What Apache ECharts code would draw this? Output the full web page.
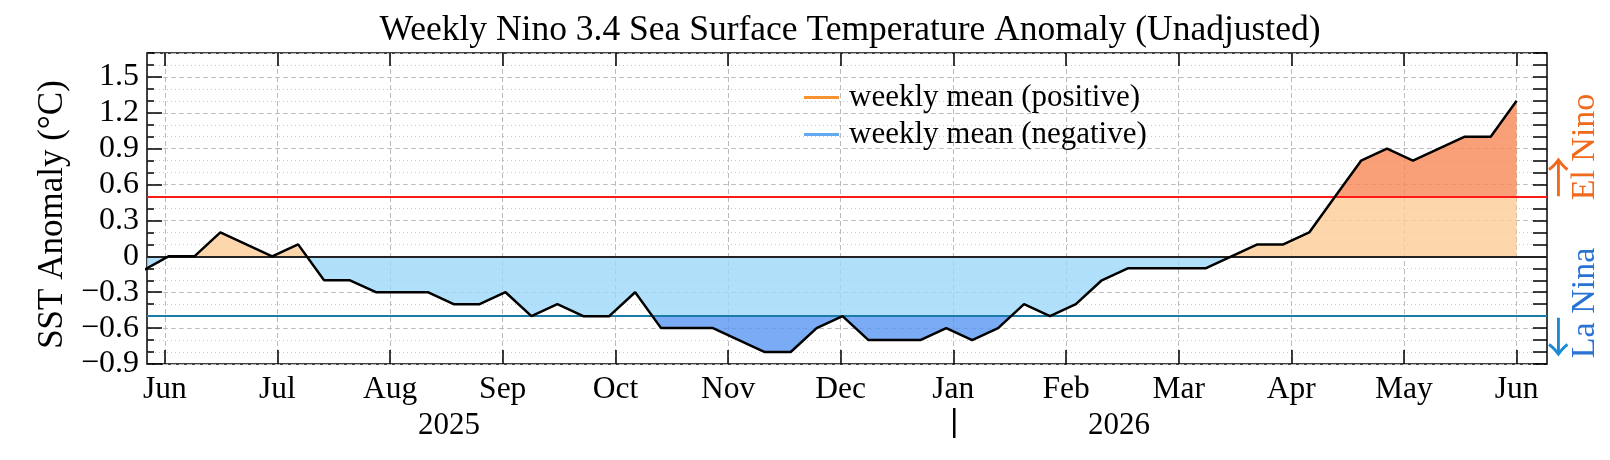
<!DOCTYPE html>
<html>
<head>
<meta charset="utf-8">
<script src="https://cdn.jsdelivr.net/npm/echarts@6/dist/echarts.min.js"></script>
<style>
html, body { margin: 0; padding: 0; background: #fff; }
#chart { width: 1610px; height: 460px; }
</style>
</head>
<body>
<div id="chart"></div>
<script>
// ================* WEEKLY NINO 3.4 *

// week (monday) and anomaly
const weekDates = [
    '2025-05-26', '2025-06-02', '2025-06-09', '2025-06-16', '2025-06-23', '2025-06-30',
    '2025-07-07', '2025-07-14', '2025-07-21', '2025-07-28', '2025-08-04', '2025-08-11',
    '2025-08-18', '2025-08-25', '2025-09-01', '2025-09-08', '2025-09-15', '2025-09-22',
    '2025-09-29', '2025-10-06', '2025-10-13', '2025-10-20', '2025-10-27', '2025-11-03',
    '2025-11-10', '2025-11-17', '2025-11-24', '2025-12-01', '2025-12-08', '2025-12-15',
    '2025-12-22', '2025-12-29', '2026-01-05', '2026-01-12', '2026-01-19', '2026-01-26',
    '2026-02-02', '2026-02-09', '2026-02-16', '2026-02-23', '2026-03-02', '2026-03-09',
    '2026-03-16', '2026-03-23', '2026-03-30', '2026-04-06', '2026-04-13', '2026-04-20',
    '2026-04-27', '2026-05-04', '2026-05-11', '2026-05-18', '2026-05-25', '2026-06-01'
];
const sstAnomaly = [
    -0.12, 0.0, 0.0, 0.2, 0.1, 0.0,
    0.1, -0.2, -0.2, -0.3, -0.3, -0.3,
    -0.4, -0.4, -0.3, -0.5, -0.4, -0.5,
    -0.5, -0.3, -0.6, -0.6, -0.6, -0.7,
    -0.8, -0.8, -0.6, -0.5, -0.7, -0.7,
    -0.7, -0.6, -0.7, -0.6, -0.4, -0.5,
    -0.4, -0.2, -0.1, -0.1, -0.1, -0.1,
    0.0, 0.1, 0.1, 0.2, 0.5, 0.8,
    0.9, 0.8, 0.9, 1.0, 1.0, 1.3
];

const monthLabels = ['Jun', 'Jul', 'Aug', 'Sep', 'Oct', 'Nov', 'Dec', 'Jan', 'Feb', 'Mar', 'Apr', 'May', 'Jun'];
const yearLabels = ['2025', '2026'];
const elNinoLevel = 0.5;
const laNinaLevel = -0.5;

const FONT = '"Liberation Serif", "Times New Roman", serif';
const MONTH = 365 / 12;

function dayOffset(d) {
    return (Date.parse(d) - Date.parse('2025-06-01')) / 86400000;
}

const points = weekDates.map(function (d, i) {
    return [dayOffset(d), sstAnomaly[i]];
});
const monthPos = monthLabels.map(function (m, i) {
    return i * MONTH;
});

function fmtY(v) {
    if (Math.abs(v) < 1e-9) return '0';
    return (v < 0 ? '\u2212' : '') + Math.abs(v).toFixed(1);
}

const chart = echarts.init(document.getElementById('chart'));

const tickStyle = { color: '#000', width: 1.5 };

const option = {
    animation: false,
    grid: {
        left: 147,
        right: 63,
        top: 53,
        bottom: 96,
        show: true,
        borderColor: '#000',
        borderWidth: 1.5,
        backgroundColor: 'transparent'
    },
    legend: {
        orient: 'vertical',
        left: 799,
        top: 77,
        itemGap: 6,
        itemWidth: 35,
        itemHeight: 3,
        icon: 'rect',
        selectedMode: false,
        textStyle: {
            fontFamily: FONT,
            fontSize: 31,
            color: '#000',
            padding: [0, 0, 0, 5]
        },
        data: ['weekly mean (positive)', 'weekly mean (negative)']
    },
    visualMap: {
        type: 'piecewise',
        show: false,
        seriesIndex: 0,
        dimension: 1,
        pieces: [
            { lt: laNinaLevel, color: '#5997f2' },
            { gte: laNinaLevel, lt: 0, color: '#9cd8f9' },
            { gte: 0, lt: elNinoLevel, color: '#fdcc97' },
            { gte: elNinoLevel, color: '#f88856' }
        ]
    },
    xAxis: [{
        type: 'value',
        position: 'bottom',
        min: -4.8,
        max: 373.2,
        axisLine: { show: false, onZero: false },
        axisTick: { customValues: monthPos, inside: true, length: 14, lineStyle: tickStyle },
        axisLabel: {
            customValues: monthPos,
            formatter: function (v) {
                return monthLabels[Math.round(v / MONTH)];
            },
            fontFamily: FONT,
            fontSize: 31.5,
            color: '#000',
            margin: 10
        },
        splitLine: { show: true, lineStyle: { color: '#bbb', type: [5, 3], width: 1 } }
    }, {
        type: 'value',
        position: 'top',
        min: -4.8,
        max: 373.2,
        axisLine: { show: false, onZero: false },
        axisTick: { customValues: monthPos, inside: true, length: 13, lineStyle: tickStyle },
        axisLabel: { show: false, customValues: monthPos },
        splitLine: { show: false }
    }],
    yAxis: [{
        type: 'value',
        position: 'left',
        min: -0.9,
        max: 1.7,
        interval: 0.3,
        axisLine: { show: false, onZero: false },
        axisTick: { inside: true, length: 15, lineStyle: tickStyle },
        axisLabel: {
            formatter: fmtY,
            showMaxLabel: false,
            fontFamily: FONT,
            fontSize: 32,
            color: '#000',
            margin: 8
        },
        splitLine: { show: true, lineStyle: { color: '#bbb', type: [5, 3], width: 1 } },
        name: 'SST Anomaly (\u00b0C)',
        nameLocation: 'middle',
        nameRotate: 90,
        nameGap: 67,
        nameTextStyle: { fontFamily: FONT, fontSize: 35, color: '#000', padding: [0, 12, 0, 0] }
    }, {
        type: 'value',
        position: 'left',
        min: -0.9,
        max: 1.7,
        interval: 0.1,
        axisLine: { show: false, onZero: false },
        axisTick: { inside: true, length: 7, lineStyle: tickStyle },
        axisLabel: { show: false },
        splitLine: { show: true, lineStyle: { color: '#c8c8c8', type: [1, 3], width: 1 } }
    }, {
        type: 'value',
        position: 'right',
        min: -0.9,
        max: 1.7,
        interval: 0.1,
        axisLine: { show: false, onZero: false },
        axisTick: { inside: true, length: 14, lineStyle: tickStyle },
        axisLabel: { show: false },
        splitLine: { show: false }
    }],
    series: [{
        name: 'anomaly fill',
        type: 'line',
        data: points,
        symbol: 'none',
        silent: true,
        z: 2,
        lineStyle: { width: 0 },
        areaStyle: { opacity: 0.8 },
        markLine: {
            silent: true,
            symbol: 'none',
            label: { show: false },
            data: [
                { yAxis: 0, lineStyle: { color: '#222', width: 2, type: 'solid' } },
                { yAxis: elNinoLevel, lineStyle: { color: '#ff1a1a', width: 2, type: 'solid' } },
                { yAxis: laNinaLevel, lineStyle: { color: '#1c7ca8', width: 2, type: 'solid' } }
            ]
        }
    }, {
        name: 'anomaly',
        type: 'line',
        data: points,
        symbol: 'none',
        silent: true,
        z: 6,
        lineStyle: { color: '#000', width: 2.5 }
    }, {
        name: 'weekly mean (positive)',
        type: 'line',
        data: [],
        symbol: 'none',
        itemStyle: { color: '#f7932e' },
        lineStyle: { color: '#f7932e', width: 3 }
    }, {
        name: 'weekly mean (negative)',
        type: 'line',
        data: [],
        symbol: 'none',
        itemStyle: { color: '#64aaf0' },
        lineStyle: { color: '#64aaf0', width: 3 }
    }],
    graphic: [{
        type: 'text',
        x: 850,
        y: 31,
        style: {
            text: 'Weekly Nino 3.4 Sea Surface Temperature Anomaly (Unadjusted)',
            font: '35.5px ' + FONT,
            fill: '#000',
            textAlign: 'center',
            textVerticalAlign: 'middle'
        }
    }, {
        type: 'text',
        x: 449,
        y: 426,
        style: { text: yearLabels[0], font: '31px ' + FONT, fill: '#000', textAlign: 'center', textVerticalAlign: 'middle' }
    }, {
        type: 'text',
        x: 1119,
        y: 426,
        style: { text: yearLabels[1], font: '31px ' + FONT, fill: '#000', textAlign: 'center', textVerticalAlign: 'middle' }
    }, {
        type: 'rect',
        shape: { x: 953, y: 408, width: 2.5, height: 30 },
        style: { fill: '#000' }
    }, {
        type: 'text',
        x: 1585,
        y: 147,
        rotation: Math.PI / 2,
        style: { text: 'El Nino', font: '34px ' + FONT, fill: '#f06a1e', textAlign: 'center', textVerticalAlign: 'middle' }
    }, {
        type: 'text',
        x: 1558,
        y: 177,
        rotation: Math.PI / 2,
        style: { text: '\u2192', font: '42px "Noto Sans CJK JP"', fill: '#f06a1e', textAlign: 'center', textVerticalAlign: 'middle' }
    }, {
        type: 'text',
        x: 1585,
        y: 303,
        rotation: Math.PI / 2,
        style: { text: 'La Nina', font: '34px ' + FONT, fill: '#2b73d3', textAlign: 'center', textVerticalAlign: 'middle' }
    }, {
        type: 'text',
        x: 1558,
        y: 337,
        rotation: Math.PI / 2,
        style: { text: '\u2190', font: '42px "Noto Sans CJK JP"', fill: '#1a8ad4', textAlign: 'center', textVerticalAlign: 'middle' }
    }]
};

chart.setOption(option);
</script>
</body>
</html>
